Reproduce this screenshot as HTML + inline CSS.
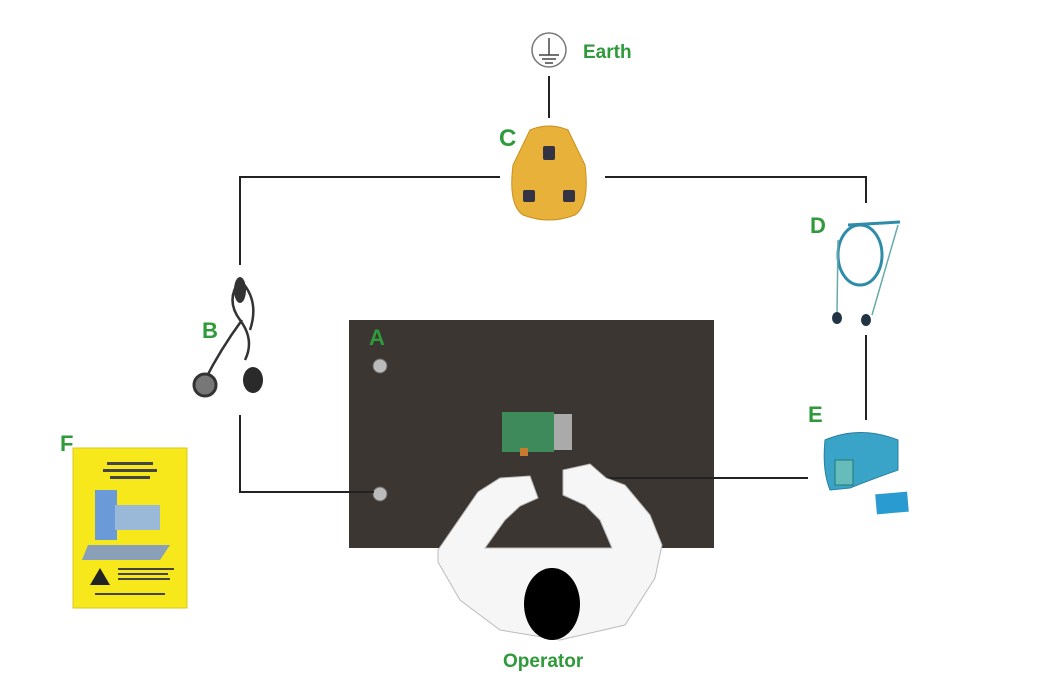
<!DOCTYPE html>
<html><head><style>
html,body{margin:0;padding:0;background:#fff;width:1041px;height:675px;overflow:hidden}
text{font-family:"Liberation Sans",sans-serif;font-weight:bold;fill:#2e9a3a}
</style></head><body>
<svg width="1041" height="675" viewBox="0 0 1041 675" xmlns="http://www.w3.org/2000/svg">
<!-- Mat -->
<rect x="349" y="320" width="365" height="228" fill="#3b3631"/>
<text x="369" y="345" font-size="22">A</text>
<circle cx="380" cy="366" r="7" fill="#bbb" stroke="#666"/>
<circle cx="380" cy="494" r="7" fill="#bbb" stroke="#666"/>
<!-- PCB -->
<rect x="502" y="412" width="52" height="40" fill="#3f8a5a"/>
<rect x="554" y="414" width="18" height="36" fill="#aaa"/>
<rect x="520" y="448" width="8" height="8" fill="#c87a30"/>
<!-- connectors -->
<g stroke="#222" stroke-width="2" fill="none">
<line x1="549" y1="76" x2="549" y2="118"/>
<polyline points="500,177 240,177 240,265"/>
<polyline points="240,415 240,492 374,492"/>
<polyline points="605,177 866,177 866,203"/>
<line x1="866" y1="335" x2="866" y2="420"/>
<line x1="595" y1="478" x2="808" y2="478"/>
</g>
<!-- Earth symbol -->
<circle cx="549" cy="50" r="17" fill="#fff" stroke="#777" stroke-width="1.5"/>
<g stroke="#444" stroke-width="1.5"><line x1="549" y1="38" x2="549" y2="55"/><line x1="539" y1="55" x2="559" y2="55"/><line x1="542" y1="59" x2="556" y2="59"/><line x1="545" y1="63" x2="553" y2="63"/></g>
<text x="583" y="58" font-size="19">Earth</text>
<!-- C plug -->
<path d="M530,130 Q549,122 568,130 L585,165 Q590,205 575,215 Q549,225 523,215 Q508,205 513,165 Z" fill="#e8b23a" stroke="#c89020"/>
<rect x="543" y="146" width="12" height="14" fill="#334" rx="2"/>
<rect x="523" y="190" width="12" height="12" fill="#334" rx="2"/>
<rect x="563" y="190" width="12" height="12" fill="#334" rx="2"/>
<text x="499" y="146" font-size="24">C</text>
<!-- B cord -->
<g stroke="#333" stroke-width="2.5" fill="none">
<path d="M240,280 Q225,300 240,320 Q255,340 245,360 M240,280 Q260,300 250,330 M242,320 Q220,350 205,380"/>
</g>
<ellipse cx="240" cy="290" rx="6" ry="13" fill="#333"/>
<circle cx="205" cy="385" r="11" fill="#777" stroke="#333" stroke-width="3"/>
<ellipse cx="253" cy="380" rx="10" ry="13" fill="#2a2a2a"/>
<text x="202" y="338" font-size="22">B</text>
<!-- operator -->
<path d="M438,550 L478,492 L500,478 L530,476 L538,498 L520,506 L505,520 L485,548 L612,548 L600,520 L585,505 L563,495 L563,470 L590,464 L606,478 L625,485 L650,515 L662,545 L655,578 L625,625 L560,640 L500,630 L460,600 L438,562 Z" fill="#f6f6f6" stroke="#bbb" stroke-width="1"/>
<ellipse cx="552" cy="604" rx="28" ry="36" fill="#000"/>
<text x="503" y="667" font-size="19">Operator</text>
<!-- D coil -->
<g stroke="#2f8ca8" stroke-width="3" fill="none">
<ellipse cx="860" cy="255" rx="22" ry="30"/>
<path d="M848,225 L900,222"/>
</g>
<g stroke="#6aa" stroke-width="1.5" fill="none"><path d="M838,240 L837,315 M898,225 L872,315"/></g>
<ellipse cx="837" cy="318" rx="5" ry="6" fill="#234"/>
<ellipse cx="866" cy="320" rx="5" ry="6" fill="#234"/>
<text x="810" y="233" font-size="22">D</text>
<!-- E wristband -->
<path d="M825,440 Q860,425 898,440 L898,470 Q870,480 850,488 L830,490 Q822,470 825,440 Z" fill="#3aa4c8" stroke="#2a7f9f"/>
<rect x="835" y="460" width="18" height="25" fill="#6bb" stroke="#277"/>
<rect x="876" y="493" width="32" height="20" fill="#2a9bd0" transform="rotate(-5 892 503)"/>
<text x="808" y="422" font-size="22">E</text>
<!-- F booklet -->
<text x="60" y="451" font-size="22">F</text>
<rect x="73" y="448" width="114" height="160" fill="#f6e81a" stroke="#d8c820"/>
<g fill="#444"><rect x="107" y="462" width="46" height="3"/><rect x="103" y="469" width="54" height="3"/><rect x="110" y="476" width="40" height="3"/></g>
<rect x="95" y="490" width="22" height="50" fill="#6a9ad8"/>
<rect x="115" y="505" width="45" height="25" fill="#9ab8d8"/>
<polygon points="88,545 170,545 160,560 82,560" fill="#8aa0b8"/>
<polygon points="90,585 100,568 110,585" fill="#222"/>
<g fill="#444"><rect x="118" y="568" width="56" height="2"/><rect x="118" y="573" width="50" height="2"/><rect x="118" y="578" width="52" height="2"/><rect x="95" y="593" width="70" height="2"/></g>
</svg>
</body></html>
